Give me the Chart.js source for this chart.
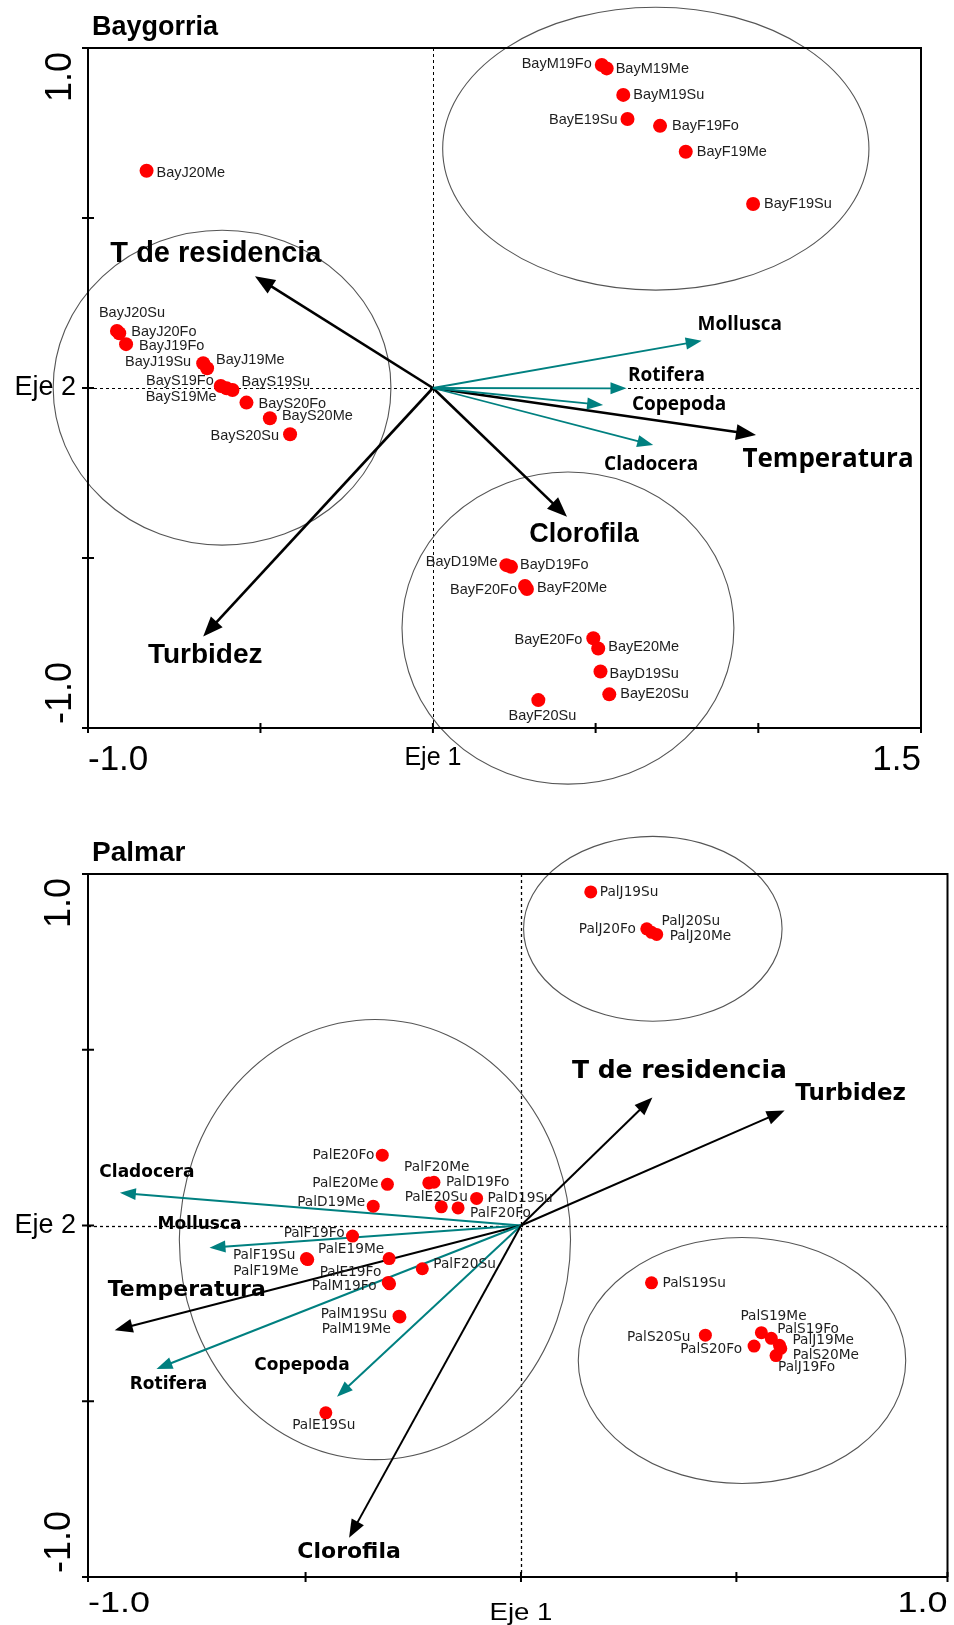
<!DOCTYPE html>
<html><head><meta charset="utf-8">
<script src="https://cdn.jsdelivr.net/npm/chart.js@4/dist/chart.umd.min.js"></script>
<style>
html,body{margin:0;padding:0;background:#fff;width:954px;height:1625px;overflow:hidden}
canvas{position:absolute;left:0}
#c1{top:0}
#c2{top:790px}
</style></head><body>
<canvas id="c1" width="954" height="790"></canvas>
<canvas id="c2" width="954" height="835"></canvas>
<script>
// ================= Baygorria =================
const bayTitle = 'Baygorria';
const baySites = ['BayM19Fo','BayM19Me','BayM19Su','BayE19Su','BayF19Fo','BayF19Me','BayF19Su','BayJ20Me',
  'BayJ20Su','BayJ20Fo','BayJ19Fo','BayJ19Su','BayJ19Me','BayS19Fo','BayS19Me','BayS19Su','BayS20Fo','BayS20Me','BayS20Su',
  'BayD19Me','BayD19Fo','BayF20Fo','BayF20Me','BayE20Fo','BayE20Me','BayD19Su','BayE20Su','BayF20Su'];
const bayAxis1 = [0.519,0.534,0.585,0.598,0.698,0.777,0.984,-0.880,
  -0.971,-0.964,-0.943,-0.706,-0.694,-0.652,-0.634,-0.616,-0.573,-0.501,-0.439,
  0.226,0.240,0.283,0.289,0.493,0.508,0.515,0.542,0.324];
const bayAxis2 = [0.950,0.940,0.862,0.791,0.771,0.695,0.541,0.639,
  0.168,0.161,0.129,0.073,0.058,0.006,-0.001,-0.006,-0.043,-0.089,-0.136,
  -0.521,-0.526,-0.582,-0.591,-0.736,-0.766,-0.834,-0.901,-0.918];
const bayVars = ['T de residencia','Turbidez','Temperatura','Clorofila','Mollusca','Rotifera','Copepoda','Cladocera'];
const bayVarType = ['env','env','env','env','sp','sp','sp','sp'];
const bayVarAxis1 = [-0.547,-0.706,0.993,0.412,0.826,0.595,0.523,0.677];
const bayVarAxis2 = [0.329,-0.731,-0.138,-0.379,0.139,-0.001,-0.050,-0.168];
const bayGroupCx = [0.685,-0.648,0.415];
const bayGroupCy = [0.704,0.001,-0.706];
const bayGroupRx = [0.655,0.519,0.510];
const bayGroupRy = [0.416,0.463,0.459];
const bayXTicks = [-1.06,-0.53,0,0.5,1.0,1.5];
const bayXTickLabels = ['-1.0','','Eje 1','','','1.5'];
const bayYTicks = [1,0.5,0,-0.5,-1];
const bayYTickLabels = ['1.0','','Eje 2','','-1.0'];

// ================= Palmar =================
const palTitle = 'Palmar';
const palSites = ['PalJ19Su','PalJ20Fo','PalJ20Su','PalJ20Me','PalE20Fo','PalE20Me','PalF20Me','PalD19Fo','PalD19Me',
  'PalE20Su','PalF20Fo','PalD19Su','PalF19Fo','PalF19Su','PalF19Me','PalE19Me','PalE19Fo','PalM19Fo','PalF20Su',
  'PalM19Su','PalM19Me','PalE19Su','PalS19Su','PalS20Su','PalS20Fo','PalS19Me','PalS19Fo','PalJ19Me','PalS20Me','PalJ19Fo'];
const palAxis1 = [0.162,0.292,0.303,0.315,-0.322,-0.310,-0.214,-0.202,-0.343,
  -0.185,-0.146,-0.103,-0.391,-0.498,-0.495,-0.306,-0.308,-0.305,-0.229,
  -0.283,-0.281,-0.453,0.303,0.428,0.541,0.558,0.581,0.600,0.603,0.592];
const palAxis2 = [0.949,0.844,0.834,0.828,0.200,0.117,0.121,0.123,0.055,
  0.053,0.050,0.077,-0.030,-0.094,-0.097,-0.094,-0.162,-0.166,-0.123,
  -0.258,-0.260,-0.533,-0.163,-0.312,-0.343,-0.305,-0.321,-0.341,-0.350,-0.370];
const palVars = ['T de residencia','Turbidez','Cladocera','Mollusca','Temperatura','Rotifera','Copepoda','Clorofila'];
const palVarType = ['env','env','sp','sp','env','sp','sp','env'];
const palVarAxis1 = [0.305,0.612,-0.931,-0.723,-0.943,-0.846,-0.427,-0.399];
const palVarAxis2 = [0.364,0.327,0.093,-0.063,-0.298,-0.408,-0.487,-0.888];
const palGroupCx = [0.306,-0.339,0.513];
const palGroupCy = [0.844,-0.040,-0.384];
const palGroupRx = [0.300,0.454,0.380];
const palGroupRy = [0.263,0.626,0.350];
const palXTicks = [-1.005,-0.5,0,0.5,0.99];
const palXTickLabels = ['-1.0','','Eje 1','','1.0'];
const palYTicks = [1,0.5,0,-0.5,-1];
const palYTickLabels = ['1.0','','Eje 2','','-1.0'];

// ================= layout (label placement, styles) =================
const bayLabelPlace = [['L',-10,-1],['R',9,1],['R',10,0],['L',-10,1],['R',12,0],['R',11,0],['R',11,0],['R',10,2],
  ['C',15,-18],['R',12,-1],['R',13,2],['L',-12,-1],['R',9,-8],['L',-7,-5],['L',-10,9],['R',9,-8],['R',12,1],['R',12,-2],['L',-11,2],
  ['L',-9,-3],['R',9,-2],['L',-8,4],['R',10,-1],['L',-11,2],['R',10,-1],['R',9,2],['R',11,0],['C',4,16]];
const palLabelPlace = [['R',9,1],['L',-11,1],['R',10,-11],['R',13,2],['L',-8,0],['L',-9,-1],['C',8,-16],['R',12,0],['L',-8,-4],
  ['C',-5,-9],['R',12,6],['R',11,0],['L',-8,-3],['L',-11,-3],['L',-9,12],['L',-5,-9],['L',-7,-10],['L',-13,3],['R',11,-4],
  ['L',-12,-2],['L',-9,13],['C',-2,13],['R',11,1],['L',-15,2],['L',-12,3],['R',-21,-16],['R',6,-9],['R',13,-5],['R',12,7],['R',2,12]];
const bayVarLabel = [[-39,-22,'bold 29px "Liberation Sans"'],[2,19,'bold 28px "Liberation Sans"'],[72,25,'bold 26px "Open Sans"'],
  [17,18,'bold 27px "Liberation Sans"'],[38,-16,'bold 19px "Open Sans"'],[40,-13,'bold 19px "Open Sans"'],
  [76,0,'bold 19px "Open Sans"'],[-2,19,'bold 19px "Open Sans"']];
const palVarLabel = [[27,-26,'bold 25px "DejaVu Sans"'],[66,-17,'bold 23px "DejaVu Sans"'],[27,-20,'bold 17px "DejaVu Sans"'],
  [-10,-23,'bold 17px "DejaVu Sans"'],[72,-40,'bold 22px "DejaVu Sans"'],[12,16,'bold 17px "DejaVu Sans"'],
  [-35,-31,'bold 17px "DejaVu Sans"'],[0,15,'bold 22px "DejaVu Sans"']];

const TEAL = '#008080';

function drawArrow(ctx,x0,y0,x1,y1,col,lw,hl,hw){
  const dx=x1-x0, dy=y1-y0, L=Math.hypot(dx,dy), ux=dx/L, uy=dy/L;
  const bx=x1-ux*hl, by=y1-uy*hl;
  ctx.strokeStyle=col; ctx.lineWidth=lw; ctx.lineCap='butt';
  ctx.beginPath(); ctx.moveTo(x0,y0); ctx.lineTo(bx+ux*2,by+uy*2); ctx.stroke();
  ctx.fillStyle=col; ctx.beginPath();
  ctx.moveTo(x1,y1); ctx.lineTo(bx-uy*hw,by+ux*hw); ctx.lineTo(bx+uy*hw,by-ux*hw); ctx.closePath(); ctx.fill();
}
function txt(ctx,s,x,y,font,align,base,sx,rot){
  ctx.save(); ctx.translate(x,y); if(rot) ctx.rotate(rot); ctx.scale(sx||1,1);
  ctx.font=font; ctx.textAlign=align; ctx.textBaseline=base; ctx.fillStyle='#000';
  ctx.fillText(s,0,0); ctx.restore();
}

function makeChart(id, P){
  const plugin = {
    id:'biplot',
    beforeDatasetsDraw(chart){
      const ctx=chart.ctx, a=chart.chartArea, xs=chart.scales.x, ys=chart.scales.y;
      const px=v=>xs.getPixelForValue(v), py=v=>ys.getPixelForValue(v);
      ctx.save();
      // zero lines
      ctx.strokeStyle='#000'; ctx.lineWidth=P.zeroLW; ctx.setLineDash(P.dash);
      ctx.beginPath(); ctx.moveTo(a.left,Math.round(py(0))+0.5); ctx.lineTo(a.right,Math.round(py(0))+0.5); ctx.stroke();
      ctx.beginPath(); ctx.moveTo(Math.round(px(0))+0.5,a.top); ctx.lineTo(Math.round(px(0))+0.5,a.bottom); ctx.stroke();
      ctx.setLineDash([]);
      // group ellipses
      ctx.strokeStyle='#555'; ctx.lineWidth=1.1;
      for(let i=0;i<P.gcx.length;i++){
        const cx=px(P.gcx[i]), cy=py(P.gcy[i]);
        const rx=Math.abs(px(P.gcx[i]+P.grx[i])-cx), ry=Math.abs(py(P.gcy[i]+P.gry[i])-cy);
        ctx.beginPath(); ctx.ellipse(cx,cy,rx,ry,0,0,Math.PI*2); ctx.stroke();
      }
      // frame
      ctx.strokeStyle='#000'; ctx.lineWidth=2;
      ctx.beginPath();
      ctx.moveTo(a.left-6,a.top); ctx.lineTo(a.right,a.top); ctx.lineTo(a.right,a.bottom);
      ctx.moveTo(a.left,a.top); ctx.lineTo(a.left,a.bottom+5);
      ctx.moveTo(a.left-6,a.bottom); ctx.lineTo(a.right,a.bottom);
      ctx.stroke();
      ctx.beginPath();
      P.yt.forEach(v=>{ctx.moveTo(a.left-6,py(v)); ctx.lineTo(a.left+6,py(v));});
      P.xt.forEach(v=>{ctx.moveTo(px(v),a.bottom-5); ctx.lineTo(px(v),a.bottom+5);});
      ctx.stroke();
      // arrows
      const ox=px(0), oy=py(0);
      for(let i=0;i<P.vars.length;i++){
        const env=P.vtype[i]==='env';
        drawArrow(ctx,ox,oy,px(P.v1[i]),py(P.v2[i]), env?'#000':TEAL, env?P.envLW:P.spLW,
          env?P.envHL:P.spHL, env?P.envHW:P.spHW);
      }
      ctx.restore();
    },
    afterDatasetsDraw(chart){
      const ctx=chart.ctx, a=chart.chartArea, xs=chart.scales.x, ys=chart.scales.y;
      const px=v=>xs.getPixelForValue(v), py=v=>ys.getPixelForValue(v);
      ctx.save();
      // site labels
      for(let i=0;i<P.sites.length;i++){
        const [al,dx,dy]=P.place[i];
        ctx.font=P.siteFont; ctx.fillStyle='#1e1e1e'; ctx.textBaseline='middle';
        ctx.textAlign= al==='L'?'right':(al==='R'?'left':'center');
        ctx.fillText(P.sites[i], px(P.a1[i])+dx, py(P.a2[i])+dy);
      }
      // variable labels
      for(let i=0;i<P.vars.length;i++){
        const [dx,dy,f]=P.vlab[i];
        txt(ctx,P.vars[i],px(P.v1[i])+dx,py(P.v2[i])+dy,f,'center','middle',1);
      }
      // title
      txt(ctx,P.title,a.left+4,a.top-13,P.titleFont,'left','alphabetic',1);
      // x tick labels
      P.xt.forEach((v,i)=>{
        const s=P.xtl[i]; if(!s) return;
        if(i===0) txt(ctx,s,a.left,a.bottom+P.numDY,P.numFont,'left','alphabetic',P.numSX);
        else if(i===P.xt.length-1) txt(ctx,s,a.right,a.bottom+P.numDY,P.numFont,'right','alphabetic',P.numSX);
        else txt(ctx,s,px(v),a.bottom+P.ejeDY,P.ejeFont,'center','alphabetic',P.ejeSX);
      });
      // y tick labels
      P.yt.forEach((v,i)=>{
        const s=P.ytl[i]; if(!s) return;
        if(i===0) txt(ctx,s,P.yNumX,a.top+4,P.yNumFont,'right','alphabetic',1,-Math.PI/2);
        else if(i===P.yt.length-1) txt(ctx,s,P.yNumX,a.bottom-4,P.yNumFont,'left','alphabetic',1,-Math.PI/2);
        else txt(ctx,s,a.left-12,py(v),P.ejeYFont,'right','middle',1);
      });
      ctx.restore();
    }
  };
  return new Chart(document.getElementById(id),{
    type:'scatter',
    data:{datasets:[{
      data:P.a1.map((x,i)=>({x:x,y:P.a2[i]})),
      backgroundColor:'#ff0000', borderWidth:0, pointRadius:P.r, pointHoverRadius:P.r
    }]},
    options:{
      responsive:false, animation:false, devicePixelRatio:1,
      layout:{padding:P.pad},
      plugins:{legend:{display:false},tooltip:{enabled:false},title:{display:false}},
      scales:{
        x:{type:'linear',min:P.xmin,max:P.xmax,display:false},
        y:{type:'linear',min:-1,max:1,display:false}
      }
    },
    plugins:[plugin]
  });
}

makeChart('c1',{
  title:bayTitle, titleFont:'bold 27px "Liberation Sans"',
  sites:baySites, a1:bayAxis1, a2:bayAxis2, place:bayLabelPlace, siteFont:'14.5px "Liberation Sans"',
  vars:bayVars, vtype:bayVarType, v1:bayVarAxis1, v2:bayVarAxis2, vlab:bayVarLabel,
  gcx:bayGroupCx, gcy:bayGroupCy, grx:bayGroupRx, gry:bayGroupRy,
  xt:bayXTicks, xtl:bayXTickLabels, yt:bayYTicks, ytl:bayYTickLabels,
  xmin:-1.06, xmax:1.5, pad:{left:88,right:33,top:48,bottom:62}, r:7,
  dash:[3,3], zeroLW:1,
  envLW:2.6, envHL:20, envHW:8, spLW:1.8, spHL:16, spHW:6,
  numFont:'35px "Liberation Sans"', numSX:1, numDY:42,
  ejeFont:'25px "Liberation Sans"', ejeSX:1, ejeDY:37,
  yNumFont:'36px "Liberation Sans"', yNumX:71, ejeYFont:'27px "Liberation Sans"'
});

makeChart('c2',{
  title:palTitle, titleFont:'bold 28px "Liberation Sans"',
  sites:palSites, a1:palAxis1, a2:palAxis2, place:palLabelPlace, siteFont:'13.7px "DejaVu Sans"',
  vars:palVars, vtype:palVarType, v1:palVarAxis1, v2:palVarAxis2, vlab:palVarLabel,
  gcx:palGroupCx, gcy:palGroupCy, grx:palGroupRx, gry:palGroupRy,
  xt:palXTicks, xtl:palXTickLabels, yt:palYTicks, ytl:palYTickLabels,
  xmin:-1.005, xmax:0.99, pad:{left:88,right:4,top:84,bottom:48}, r:6.5,
  dash:[3,3], zeroLW:1.3,
  envLW:2, envHL:18, envHW:7, spLW:2, spHL:16, spHW:6,
  numFont:'30px "Liberation Sans"', numSX:1.2, numDY:35,
  ejeFont:'24px "Liberation Sans"', ejeSX:1.15, ejeDY:43,
  yNumFont:'36px "Liberation Sans"', yNumX:70, ejeYFont:'27px "Liberation Sans"'
});
</script>
</body></html>
